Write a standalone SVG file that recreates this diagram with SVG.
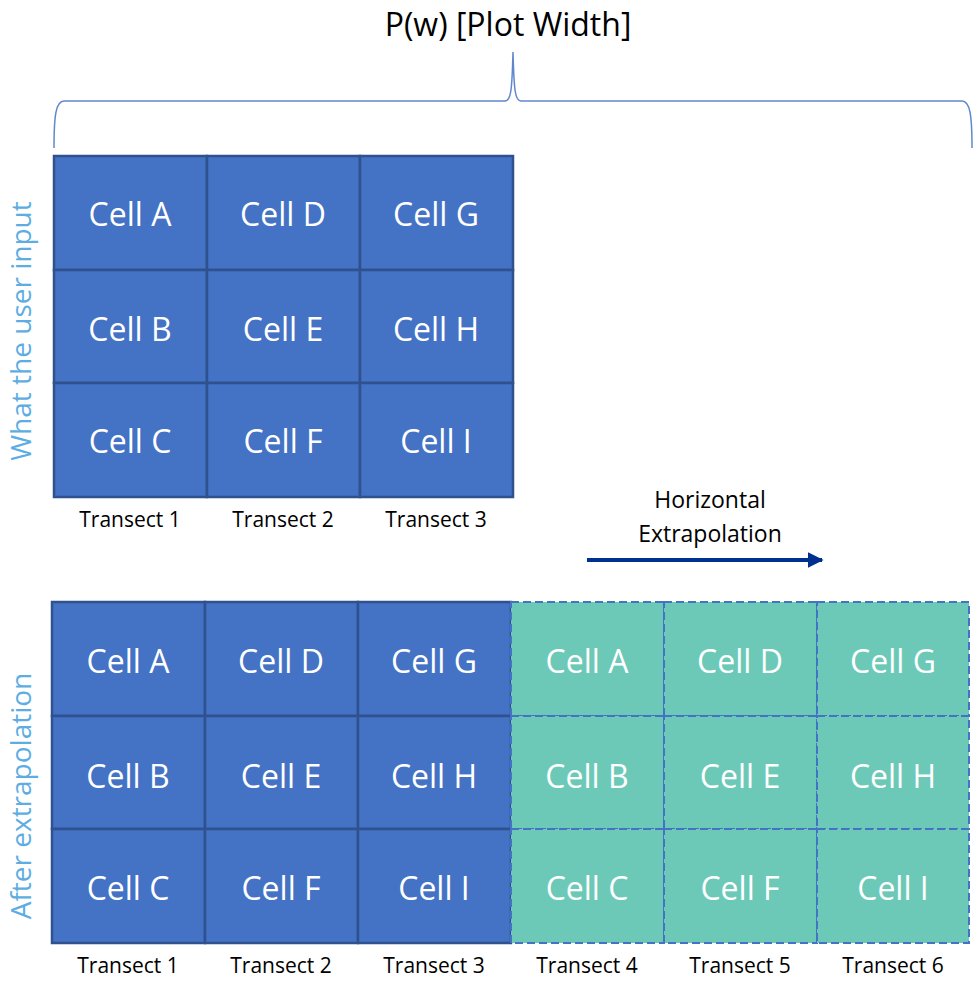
<svg xmlns="http://www.w3.org/2000/svg" width="980" height="987" viewBox="0 0 980 987">
<style>
.cell{fill:#4472C4;stroke:#2F528F;stroke-width:2.5}
.ext{fill:#6CC9B8;stroke:#4472C4;stroke-width:2;stroke-dasharray:8 4}
.ct{font-family:"Open Sans","Noto Sans",sans-serif;font-size:32px;fill:#fff;text-anchor:middle;dominant-baseline:central}
.tl{font-family:"Open Sans","Noto Sans",sans-serif;font-size:21px;fill:#000;text-anchor:middle}
.side{font-family:"Open Sans","Noto Sans",sans-serif;font-size:28px;fill:#5DADE2;text-anchor:middle}
</style>
<defs>
<marker id="ah" viewBox="0 0 10 10" refX="9" refY="5" markerWidth="4" markerHeight="4" orient="auto" markerUnits="strokeWidth">
<path d="M0,0 L10,5 L0,10 z" fill="#003090"/>
</marker>
</defs>
<rect width="980" height="987" fill="#fff"/>
<text x="508" y="36" font-family="Open Sans, Noto Sans, sans-serif" font-size="32" text-anchor="middle" fill="#000">P(w) [Plot Width]</text>
<path d="M54,148 C54,115 56,101 64,101 L505,101 C511,101 512,90 513,52 C514,90 515,101 521,101 L962,101 C970,101 972,115 972,148" fill="none" stroke="#4472C4" stroke-width="1.5" stroke-opacity="0.85"/>
<text class="side" transform="translate(31,331) rotate(-90)">What the user input</text>
<text class="side" transform="translate(31,796) rotate(-90)">After extrapolation</text>
<g id="top-grid">
<g id="t-a"><rect class="cell" x="54" y="156" width="153" height="114"/><text class="ct" x="130" y="213">Cell A</text></g>
<g id="t-d"><rect class="cell" x="207" y="156" width="153" height="114"/><text class="ct" x="283" y="213">Cell D</text></g>
<g id="t-g"><rect class="cell" x="360" y="156" width="153" height="114"/><text class="ct" x="436" y="213">Cell G</text></g>
<g id="t-b"><rect class="cell" x="54" y="270" width="153" height="113"/><text class="ct" x="130" y="328">Cell B</text></g>
<g id="t-e"><rect class="cell" x="207" y="270" width="153" height="113"/><text class="ct" x="283" y="328">Cell E</text></g>
<g id="t-h"><rect class="cell" x="360" y="270" width="153" height="113"/><text class="ct" x="436" y="328">Cell H</text></g>
<g id="t-c"><rect class="cell" x="54" y="383" width="153" height="114"/><text class="ct" x="130" y="440">Cell C</text></g>
<g id="t-f"><rect class="cell" x="207" y="383" width="153" height="114"/><text class="ct" x="283" y="440">Cell F</text></g>
<g id="t-i"><rect class="cell" x="360" y="383" width="153" height="114"/><text class="ct" x="436" y="440">Cell I</text></g>
</g>
<text class="tl" x="130" y="527">Transect 1</text>
<text class="tl" x="283" y="527">Transect 2</text>
<text class="tl" x="436" y="527">Transect 3</text>
<text x="710" y="508" font-family="Open Sans, Noto Sans, sans-serif" font-size="23" text-anchor="middle" fill="#000">Horizontal</text>
<text x="710" y="542" font-family="Open Sans, Noto Sans, sans-serif" font-size="23" text-anchor="middle" fill="#000">Extrapolation</text>
<g id="connectors">
<line x1="587" y1="560" x2="822" y2="560" stroke="#003090" stroke-width="4" marker-end="url(#ah)"/>
</g>
<g id="bottom-grid">
<g id="b-a"><rect class="cell" x="52" y="602" width="153" height="114"/><text class="ct" x="128" y="660">Cell A</text></g>
<g id="b-d"><rect class="cell" x="205" y="602" width="153" height="114"/><text class="ct" x="281" y="660">Cell D</text></g>
<g id="b-g"><rect class="cell" x="358" y="602" width="153" height="114"/><text class="ct" x="434" y="660">Cell G</text></g>
<g id="b-b"><rect class="cell" x="52" y="716" width="153" height="113"/><text class="ct" x="128" y="775">Cell B</text></g>
<g id="b-e"><rect class="cell" x="205" y="716" width="153" height="113"/><text class="ct" x="281" y="775">Cell E</text></g>
<g id="b-h"><rect class="cell" x="358" y="716" width="153" height="113"/><text class="ct" x="434" y="775">Cell H</text></g>
<g id="b-c"><rect class="cell" x="52" y="829" width="153" height="114"/><text class="ct" x="128" y="887">Cell C</text></g>
<g id="b-f"><rect class="cell" x="205" y="829" width="153" height="114"/><text class="ct" x="281" y="887">Cell F</text></g>
<g id="b-i"><rect class="cell" x="358" y="829" width="153" height="114"/><text class="ct" x="434" y="887">Cell I</text></g>
<g id="e-a"><rect class="ext" x="511" y="602" width="153" height="114"/><text class="ct" x="587" y="660">Cell A</text></g>
<g id="e-d"><rect class="ext" x="664" y="602" width="153" height="114"/><text class="ct" x="740" y="660">Cell D</text></g>
<g id="e-g"><rect class="ext" x="817" y="602" width="152" height="114"/><text class="ct" x="893" y="660">Cell G</text></g>
<g id="e-b"><rect class="ext" x="511" y="716" width="153" height="113"/><text class="ct" x="587" y="775">Cell B</text></g>
<g id="e-e"><rect class="ext" x="664" y="716" width="153" height="113"/><text class="ct" x="740" y="775">Cell E</text></g>
<g id="e-h"><rect class="ext" x="817" y="716" width="152" height="113"/><text class="ct" x="893" y="775">Cell H</text></g>
<g id="e-c"><rect class="ext" x="511" y="829" width="153" height="114"/><text class="ct" x="587" y="887">Cell C</text></g>
<g id="e-f"><rect class="ext" x="664" y="829" width="153" height="114"/><text class="ct" x="740" y="887">Cell F</text></g>
<g id="e-i"><rect class="ext" x="817" y="829" width="152" height="114"/><text class="ct" x="893" y="887">Cell I</text></g>
</g>
<text class="tl" x="128" y="973">Transect 1</text>
<text class="tl" x="281" y="973">Transect 2</text>
<text class="tl" x="434" y="973">Transect 3</text>
<text class="tl" x="587" y="973">Transect 4</text>
<text class="tl" x="740" y="973">Transect 5</text>
<text class="tl" x="893" y="973">Transect 6</text>
</svg>
